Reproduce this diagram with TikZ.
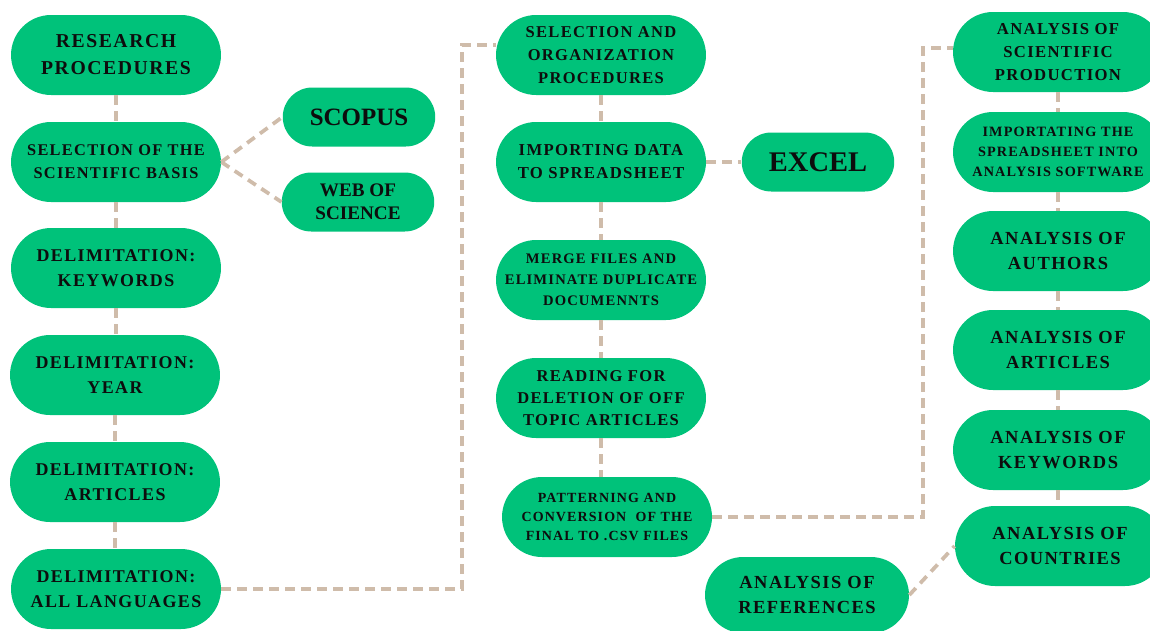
\documentclass[tikz,border=0pt]{standalone}
\usepackage{fontspec}
\setmainfont{Liberation Serif}
\newfontfamily\spaced{Liberation Serif}[LetterSpace=8]
\usepackage{tikz}
\usetikzlibrary{calc}
\definecolor{leaf}{HTML}{00C27A}
\definecolor{sand}{HTML}{CFBCAA}
\definecolor{ink}{HTML}{0D0D0D}
\tikzset{
  pill/.style={rectangle, fill=leaf, text=ink, inner sep=0pt, align=center,
    minimum width=4.2cm, minimum height=1.6cm, rounded corners=0.8cm},
  chip/.style={pill, minimum width=3.05cm, minimum height=1.18cm, rounded corners=0.59cm},
  link/.style={draw=sand, line width=0.075cm, dash pattern=on 0.19cm off 0.13cm},
}
\newcommand{\fs}[2]{\spaced\bfseries\fontsize{#1}{#2}\selectfont}
\newcommand{\ft}[2]{\bfseries\fontsize{#1}{#2}\selectfont}

\begin{document}
\begin{tikzpicture}[x=0.02cm, y=-0.02cm]
\useasboundingbox (0,0) rectangle (1150,630);
% first column
\node[pill, font=\fs{11.2}{15.4}] (res) at (116,55) {RESEARCH\\PROCEDURES};
\node[pill, font=\fs{9.3}{13.1}] (basis) at (116,162) {SELECTION OF THE\\SCIENTIFIC BASIS};
\node[pill, font=\fs{10.2}{14.2}] (dkey) at (116,268) {DELIMITATION:\\KEYWORDS};
\node[pill, font=\fs{10.2}{14.2}] (dyear) at (115,375) {DELIMITATION:\\YEAR};
\node[pill, font=\fs{10.2}{14.2}] (dart) at (115,482) {DELIMITATION:\\ARTICLES};
\node[pill, font=\fs{10.2}{14.2}] (dlang) at (116,589) {DELIMITATION:\\ALL LANGUAGES};
\node[chip, font=\ft{14.2}{16}] (scopus) at (359,117) {SCOPUS};
\node[chip, font=\ft{10.9}{13.1}] (wos) at (358,202) {WEB OF\\SCIENCE};
% second column
\node[pill, font=\fs{9.4}{13.1}] (selorg) at (601,55) {SELECTION AND\\ORGANIZATION\\PROCEDURES};
\node[pill, font=\fs{9.5}{13.1}] (importdata) at (601,162) {IMPORTING DATA\\TO SPREADSHEET};
\node[pill, font=\fs{8.3}{12}] (merge) at (601,280) {MERGE FILES AND\\ELIMINATE DUPLICATE\\DOCUMENNTS};
\node[pill, font=\fs{9.4}{12.5}] (reading) at (601,398) {READING FOR\\DELETION OF OFF\\TOPIC ARTICLES};
\node[pill, font=\fs{7.95}{10.8}] (pattern) at (607,517) {PATTERNING AND\\CONVERSION\ \ OF THE\\FINAL TO .CSV FILES};
\node[chip, font=\ft{16.2}{18}] (excel) at (818,162) {EXCEL};
\node[pill, minimum width=4.08cm, minimum height=1.52cm, rounded corners=0.76cm,
  font=\fs{10.5}{14.2}] (refs) at (807,595) {ANALYSIS OF\\REFERENCES};
% third column
\node[pill, font=\fs{9.5}{13.1}] (sciprod) at (1058,52) {ANALYSIS OF\\SCIENTIFIC\\PRODUCTION};
\node[pill, font=\fs{8.1}{11.4}] (importsw) at (1058,152) {IMPORTATING THE\\SPREADSHEET INTO\\ANALYSIS SOFTWARE};
\node[pill, font=\fs{10.5}{14.2}] (authors) at (1058,251) {ANALYSIS OF\\AUTHORS};
\node[pill, font=\fs{10.5}{14.2}] (articles) at (1058,350) {ANALYSIS OF\\ARTICLES};
\node[pill, font=\fs{10.5}{14.2}] (keywords) at (1058,450) {ANALYSIS OF\\KEYWORDS};
\node[pill, font=\fs{10.5}{14.2}] (countries) at (1060,546) {ANALYSIS OF\\COUNTRIES};

% connectors
\foreach \a/\b in {res/basis,basis/dkey,dkey/dyear,dyear/dart,dart/dlang,
  selorg/importdata,importdata/merge,merge/reading,reading/pattern,
  sciprod/importsw,importsw/authors,authors/articles,articles/keywords,keywords/countries}{
  \draw[link] (\a.south) -- (\a.south |- \b.north);
}
\draw[link] (basis.east) -- (scopus.west);
\draw[link] (basis.east) -- (wos.west);
\draw[link] (importdata.east) -- (excel.west);
\draw[link] (refs.east) -- (countries.west);
\coordinate (bendA) at (462,45);
\coordinate (bendB) at (923,48);
\draw[link] (dlang.east) -| (bendA) -- (bendA -| selorg.west);
\draw[link] (pattern.east) -| (bendB) -- (bendB -| sciprod.west);
\end{tikzpicture}
\end{document}
